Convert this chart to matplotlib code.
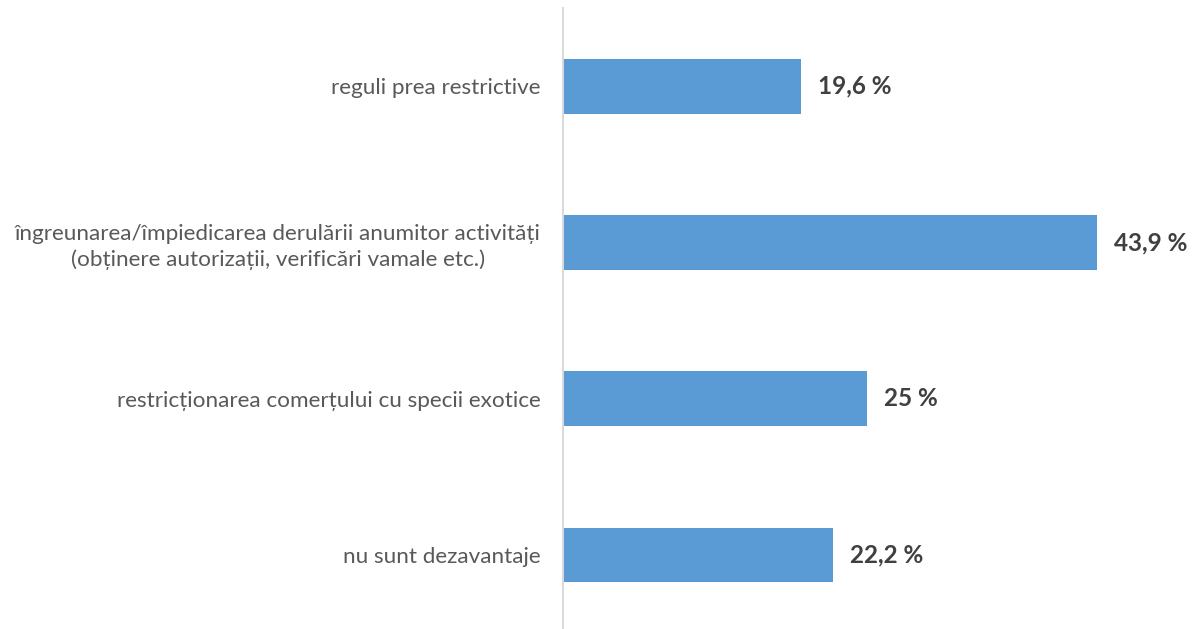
import matplotlib
matplotlib.use('Agg')
import matplotlib.pyplot as plt

# --- Date ---
categorii = [
    'reguli prea restrictive',
    'îngreunarea/împiedicarea derulării anumitor activități\n(obținere autorizații, verificări vamale etc.)',
    'restricționarea comerțului cu specii exotice',
    'nu sunt dezavantaje',
]
valori = [19.6, 43.9, 25, 22.2]
etichete = ['19,6 %', '43,9 %', '25 %', '22,2 %']

FONT = ['Lato', 'DejaVu Sans']
plt.rcParams['font.family'] = FONT

fig = plt.figure(figsize=(11.98, 6.29), dpi=100)
ax = fig.add_axes([563 / 1198, 0.0, 1 - 563 / 1198, 621 / 629])

pozitii = list(range(len(categorii)))
ax.barh(pozitii, valori, height=0.35, color='#5B9BD5')

for y, v, t in zip(pozitii, valori, etichete):
    ax.text(v + 1.4, y, t, va='center', ha='left', fontsize=17.5,
            fontweight='bold', color='#404040')

ax.set_yticks(pozitii)
ax.set_yticklabels(categorii, fontsize=16.2, color='#595959', linespacing=1.3)
ax.tick_params(axis='y', length=0, pad=16)
for lbl in ax.get_yticklabels():
    lbl.set_horizontalalignment('right')
    lbl.set_multialignment('center')

ax.set_xlim(0, 52.24)
ax.set_ylim(3.473, -0.5)
ax.set_xticks([])

for s in ['top', 'right', 'bottom']:
    ax.spines[s].set_visible(False)
ax.spines['left'].set_color('#D9D9D9')
ax.spines['left'].set_linewidth(1.4)

fig.savefig('out.png', dpi=100)
